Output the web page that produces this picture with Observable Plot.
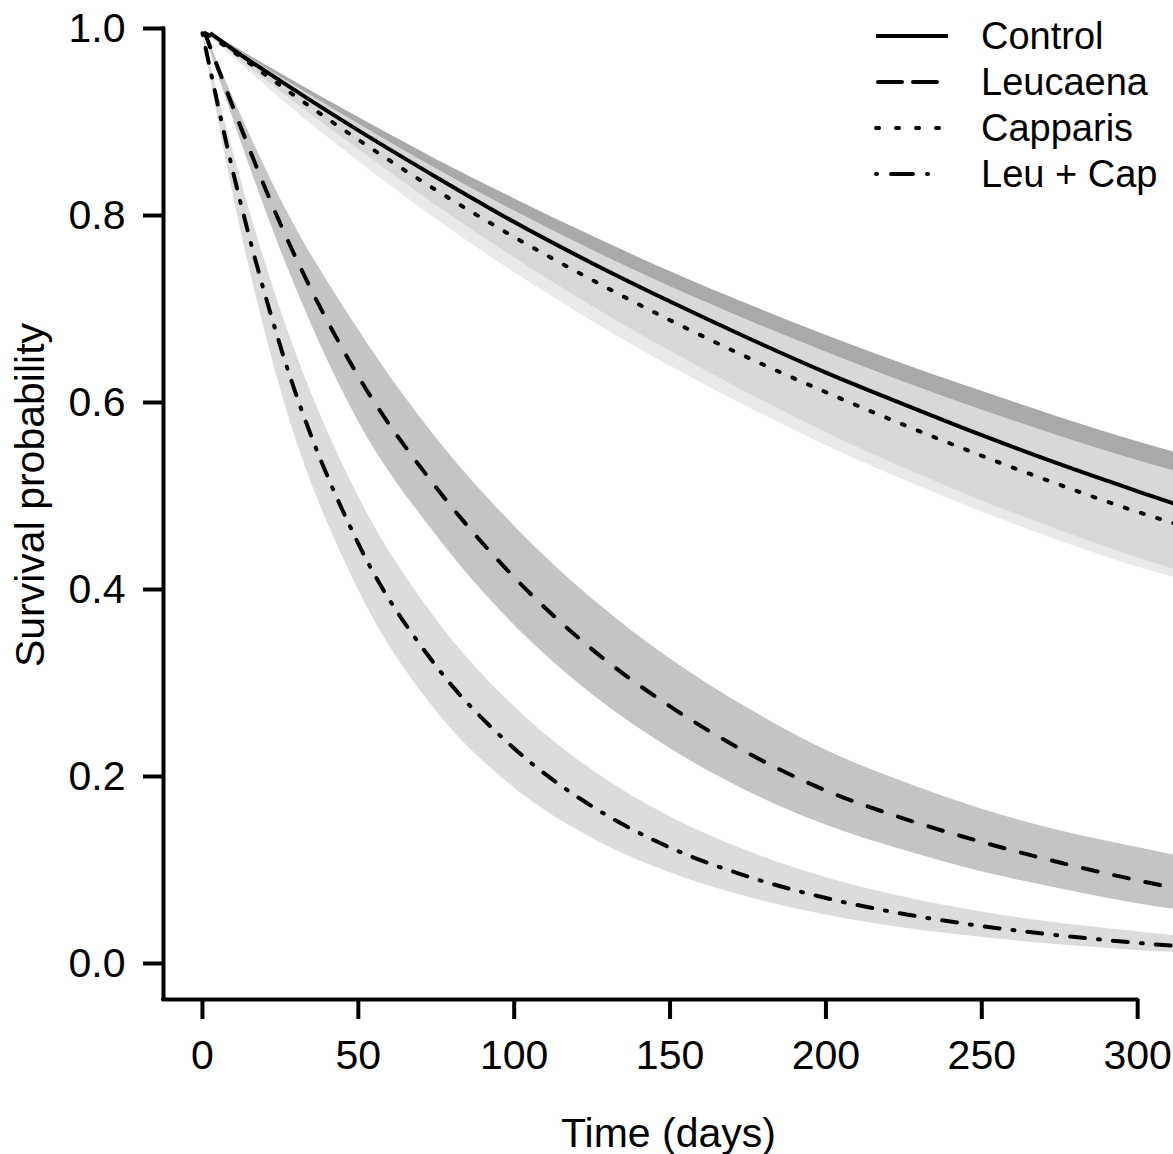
<!DOCTYPE html>
<html>
<head>
<meta charset="utf-8">
<script src="https://cdn.jsdelivr.net/npm/d3@7"></script>
<script src="https://cdn.jsdelivr.net/npm/@observablehq/plot@0.6"></script>
<style>
  html, body { margin: 0; padding: 0; background: #fff; }
  #wrap { position: relative; width: 1173px; height: 1154px; font-family: "Liberation Sans", Arial, sans-serif; }
  #legend { position: absolute; left: 872px; top: 13px; }
  .row { display: flex; align-items: center; height: 46px; }
  .row span { font-size: 38px; margin-left: 29px; color: #000; line-height: 46px; }
  #ytitle { position: absolute; left: 30px; top: 495px; transform: translate(-50%, -50%) rotate(-90deg);
            white-space: nowrap; font-size: 41px; line-height: 1; color: #000; }
</style>
</head>
<body>
<div id="wrap"><div id="legend"></div><div id="ytitle">Survival probability</div></div>
<script>
// ---- data ----
const series = ["Control", "Leucaena", "Capparis", "Leu + Cap"];
const startDays = [2.5, 0.8, 1.5, 0];
const days = [10, 25, 50, 75, 100, 125, 150, 175, 200, 225, 250, 275, 300, 311.5];

const controlFit   = [0.995, 0.977, 0.944, 0.891, 0.841, 0.793, 0.749, 0.708, 0.669, 0.632, 0.598, 0.565, 0.534, 0.505, 0.492];
const controlUpper = [0.996, 0.981, 0.952, 0.905, 0.860, 0.818, 0.778, 0.740, 0.705, 0.672, 0.641, 0.612, 0.584, 0.558, 0.547];
const controlLower = [0.994, 0.972, 0.933, 0.871, 0.811, 0.755, 0.703, 0.655, 0.610, 0.568, 0.530, 0.495, 0.463, 0.434, 0.422];

const leucaenaFit   = [0.995, 0.914, 0.791, 0.628, 0.509, 0.413, 0.336, 0.275, 0.225, 0.185, 0.155, 0.130, 0.108, 0.089, 0.081];
const leucaenaUpper = [0.996, 0.925, 0.818, 0.678, 0.562, 0.468, 0.390, 0.326, 0.273, 0.228, 0.194, 0.165, 0.142, 0.124, 0.116];
const leucaenaLower = [0.993, 0.902, 0.764, 0.580, 0.458, 0.362, 0.288, 0.230, 0.184, 0.148, 0.121, 0.098, 0.080, 0.064, 0.058];

const capparisFit   = [0.994, 0.975, 0.939, 0.881, 0.827, 0.777, 0.731, 0.688, 0.648, 0.611, 0.576, 0.543, 0.512, 0.483, 0.471];
const capparisUpper = [0.995, 0.979, 0.948, 0.898, 0.850, 0.805, 0.763, 0.724, 0.688, 0.654, 0.622, 0.592, 0.564, 0.538, 0.527];
const capparisLower = [0.993, 0.969, 0.925, 0.858, 0.796, 0.739, 0.687, 0.639, 0.595, 0.554, 0.517, 0.483, 0.452, 0.424, 0.413];

const leuCapFit   = [0.995, 0.844, 0.660, 0.449, 0.318, 0.230, 0.168, 0.124, 0.093, 0.070, 0.053, 0.040, 0.030, 0.022, 0.019];
const leuCapUpper = [0.996, 0.866, 0.700, 0.500, 0.368, 0.275, 0.207, 0.157, 0.120, 0.092, 0.071, 0.055, 0.043, 0.034, 0.030];
const leuCapLower = [0.993, 0.820, 0.615, 0.400, 0.270, 0.188, 0.134, 0.097, 0.071, 0.052, 0.038, 0.028, 0.020, 0.014, 0.012];

const xTicks = [0, 50, 100, 150, 200, 250, 300];
const yTicks = [0, 0.2, 0.4, 0.6, 0.8, 1.0];

// ---- styling ----
const bandFill = {
  "Control": "#a9a9a9",
  "Capparis": "rgba(228,228,228,0.8)",
  "Leucaena": "#c4c4c4",
  "Leu + Cap": "#dcdcdc"
};
const dash = {
  "Control": null,
  "Leucaena": "15,17",
  "Capparis": "3,14",
  "Leu + Cap": "2,13,15,13"
};
const legendDash = {
  "Control": null,
  "Leucaena": "24,11",
  "Capparis": "3,17",
  "Leu + Cap": "1,14,22,14"
};
const legendSpan = {
  "Control": [4, 76],
  "Leucaena": [6, 65],
  "Capparis": [4, 68],
  "Leu + Cap": [4, 66]
};

const fits = [controlFit, leucaenaFit, capparisFit, leuCapFit];
const uppers = [controlUpper, leucaenaUpper, capparisUpper, leuCapUpper];
const lowers = [controlLower, leucaenaLower, capparisLower, leuCapLower];

const rows = [];
series.forEach((s, i) => {
  const t = [startDays[i], ...days];
  t.forEach((d, j) => rows.push({series: s, day: d, s: fits[i][j], hi: uppers[i][j], lo: lowers[i][j]}));
});
const of = s => rows.filter(r => r.series === s);

const xMin = -12.5, xMax = 311.5, yMin = -0.0385;
const font = "Liberation Sans, Arial, sans-serif";

const bandOrder = ["Control", "Capparis", "Leucaena", "Leu + Cap"];
const marks = [];
bandOrder.forEach(s => marks.push(Plot.areaY(of(s), {x: "day", y1: "lo", y2: "hi", fill: bandFill[s], curve: "monotone-x"})));
series.forEach(s => marks.push(Plot.lineY(of(s), {
  x: "day", y: "s", stroke: "#000", strokeWidth: 4, curve: "monotone-x",
  strokeDasharray: dash[s], strokeLinecap: dash[s] ? "round" : "butt", strokeLinejoin: "round"
})));

// axis lines (L-shaped box)
marks.push(Plot.ruleX([xMin], {y1: yMin, y2: 1, stroke: "#000", strokeWidth: 4, strokeLinecap: "round"}));
marks.push(Plot.ruleY([yMin], {x1: xMin, x2: 300, stroke: "#000", strokeWidth: 4, strokeLinecap: "round"}));

marks.push(Plot.axisX(xTicks, {tickSize: 20, tickPadding: 20, strokeWidth: 4, fontSize: 41, label: null, stroke: "#000", fill: "#000"}));
marks.push(Plot.axisY(yTicks, {tickSize: 20, tickPadding: 18, strokeWidth: 4, fontSize: 41, label: null, tickFormat: d3.format(".1f"), stroke: "#000", fill: "#000"}));

marks.push(Plot.text(["Time (days)"], {frameAnchor: "bottom", dy: 134, fontSize: 41, fill: "#000", lineAnchor: "middle"}));

const chart = Plot.plot({
  width: 1173,
  height: 1154,
  marginLeft: 163,
  marginRight: 0,
  marginTop: 28,
  marginBottom: 155,
  style: {fontFamily: font, background: "#fff", overflow: "visible"},
  x: {domain: [xMin, xMax], axis: null},
  y: {domain: [yMin, 1], axis: null},
  marks
});
document.getElementById("wrap").prepend(chart);

// legend
const leg = d3.select("#legend");
series.forEach(s => {
  const row = leg.append("div").attr("class", "row");
  const svg = row.append("svg").attr("width", 80).attr("height", 20);
  svg.append("line").attr("x1", legendSpan[s][0]).attr("x2", legendSpan[s][1]).attr("y1", 10).attr("y2", 10)
    .attr("stroke", "#000").attr("stroke-width", 4)
    .attr("stroke-dasharray", legendDash[s])
    .attr("stroke-linecap", legendDash[s] ? "round" : "butt");
  row.append("span").text(s);
});
</script>
</body>
</html>
